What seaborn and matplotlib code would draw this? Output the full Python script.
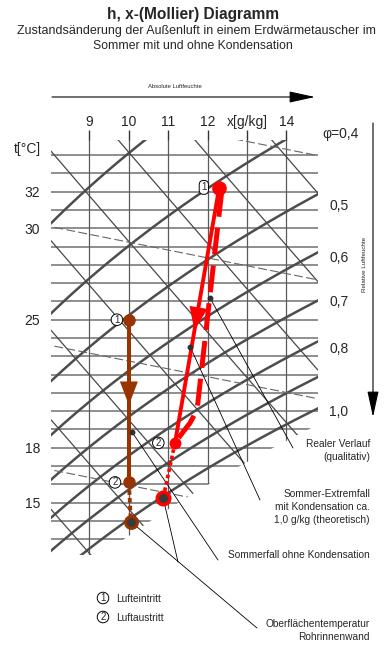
import numpy as np
import matplotlib
matplotlib.use("Agg")
import matplotlib.pyplot as plt
from matplotlib.patches import Polygon
import seaborn as sns

W, H = 385, 665

# --- chart scales ---
x_ticks = [9, 10, 11, 12, 13, 14]
x_ticklabels = ["9", "10", "11", "12", "x[g/kg]", "14"]
t_ticks = [32, 30, 25, 18, 15]
isotherms = list(range(13, 35))
phi_levels = [0.3, 0.4, 0.5, 0.6, 0.7, 0.8, 0.9, 1.0]
h_levels = [35, 40, 45, 50, 55, 60, 65, 70]
aux_t0 = [36.9, 30.1, 23.6, 16.8]     # flat dashed lines (t at x=8 g/kg)
aux_slope = -0.43
phi_labels = ["φ=0,4", "0,5", "0,6", "0,7", "0,8", "1,0"]

# --- process data (x in g/kg, t in °C) ---
# Sommerfall ohne Kondensation
brown_x = [10.0, 10.0]
brown_t = [25.0, 16.1]
brown_wall = (10.05, 13.95)
# Sommer-Extremfall mit Kondensation (theoretisch)
red_x = [12.29, 11.17]
red_t = [32.2, 18.26]
red_wall = (10.87, 15.25)
# Realer Verlauf (qualitativ)
real_x = [12.36, 11.73, 11.55, 11.22]
real_t = [32.1, 20.06, 19.35, 18.42]
# small dots where the leaders start
dot_real = (12.06, 26.19)
dot_extrem = (11.56, 23.5)
dot_ohne = (10.08, 18.86)

BROWN = "#993300"
RED = "#ff0000"

P = 101325.0


def p_sat(t):
    return 611.2 * np.exp(17.62 * t / (243.12 + t))


def x_of(t, phi):
    pv = phi * p_sat(t)
    return 622 * pv / (P - pv)


def t_dew(x):
    pv = x * P / (622 + x)
    l = np.log(pv / 611.2)
    return 243.12 * l / (17.62 - l)


def t_of_h(h, x):
    return (h - 2.501 * x) / (1.006 + 0.00186 * x)


sns.set_style("white")
plt.rcParams["font.family"] = ["Liberation Sans", "DejaVu Sans"]

fig = plt.figure(figsize=(W / 100, H / 100), dpi=100)
ax = fig.add_axes([51 / W, 1 - 555 / H, 267 / W, 415 / H])
ax.set_xlim(8.023, 14.80)
ax.set_ylim(12.13, 34.83)
for s in ax.spines.values():
    s.set_visible(False)

# clip region: chart area above (slightly below) saturation
xb = np.linspace(7.5, 15.5, 200)
tb = t_dew(xb) - 0.9
verts = [(7.5, 40), (15.5, 40)] + list(zip(xb[::-1], tb[::-1]))
clip = Polygon(verts, closed=True, transform=ax.transData, visible=False)
ax.add_patch(clip)


def gline(x, y, **kw):
    ln, = ax.plot(x, y, zorder=1, **kw)
    ln.set_clip_path(clip)


tt = np.linspace(5, 40, 300)
xx = np.linspace(7.5, 15.5, 60)
for t in isotherms:
    gline([7.5, 15.5], [t, t], color="#707070", lw=1.1)
for xv in x_ticks:
    gline([xv, xv], [5, 40], color="#5a5a5a", lw=0.9)
for phi in phi_levels:
    gline(x_of(tt, phi), tt, color="#4d4d4d", lw=1.8)
for h in h_levels:
    gline(xx, t_of_h(h, xx), color="#484848", lw=0.9)
for t0 in aux_t0:
    gline(xx, t0 + aux_slope * (xx - 8.0), color="#666666", lw=0.8,
          ls=(0, (8, 3)))

# ticks
ax.xaxis.tick_top()
ax.set_xticks(x_ticks)
ax.set_xticklabels(x_ticklabels)
ax.tick_params(axis="x", top=True, bottom=False, length=7, width=1.0,
               pad=1, labelsize=10, color="#333333")
ax.set_yticks(t_ticks)
ax.set_yticklabels([str(t) for t in t_ticks])
ax.tick_params(axis="y", left=False, length=0, pad=8, labelsize=10)

# --- processes ---
sns.lineplot(x=brown_x, y=brown_t, ax=ax, color=BROWN, lw=2.9,
             sort=False, estimator=None, zorder=3)
sns.lineplot(x=[brown_x[-1], brown_wall[0]], y=[brown_t[-1], brown_wall[1]],
             ax=ax, color=BROWN, lw=2.8, linestyle=(0, (1.2, 0.8)),
             sort=False, estimator=None, zorder=3)
sns.lineplot(x=red_x, y=red_t, ax=ax, color=RED, lw=2.8,
             sort=False, estimator=None, zorder=3)
sns.lineplot(x=real_x, y=real_t, ax=ax, color=RED, lw=3.6,
             linestyle=(0, (5.4, 2.2)), sort=False, estimator=None, zorder=3)
sns.lineplot(x=[red_x[-1], red_wall[0]], y=[red_t[-1], red_wall[1]],
             ax=ax, color=RED, lw=2.6, linestyle=(0, (1.0, 0.8)),
             sort=False, estimator=None, zorder=3)

# arrow heads
head = dict(arrowstyle="-|>,head_length=1.7,head_width=0.65", lw=0,
            shrinkA=0, shrinkB=0, mutation_scale=10)
ax.annotate("", xy=(brown_x[0], 20.33), xytext=(brown_x[0], 22.5),
            arrowprops=dict(color=BROWN, **head), zorder=4)
ra_tip, ra_tail = 24.4, 27.0
ax.annotate("", xy=(np.interp(ra_tip, red_t[::-1], red_x[::-1]), ra_tip),
            xytext=(np.interp(ra_tail, red_t[::-1], red_x[::-1]), ra_tail),
            arrowprops=dict(color=RED, **head), zorder=4)

# state points
ax.plot(brown_x, brown_t, "o", ms=8, color=BROWN, zorder=5)
ax.plot(*brown_wall, "o", ms=8.5, mfc="#3a3a3a", mec=BROWN, mew=2.2, zorder=5)
ax.plot(red_x[0], red_t[0], "o", ms=9.5, color=RED, zorder=5)
ax.plot(red_x[-1], red_t[-1], "o", ms=7.5, color=RED, zorder=5)
ax.plot(*red_wall, "o", ms=9, mfc="#3a3a3a", mec=RED, mew=2.5, zorder=5)
for d in (dot_real, dot_extrem, dot_ohne):
    ax.plot(*d, "o", ms=3.2, color="#303030", zorder=6)

# circled numbers
circ = dict(boxstyle="circle,pad=0.08", fc="white", ec="black", lw=0.7)
for txt, pt, off in [("1", (brown_x[0], brown_t[0]), -8.6),
                     ("2", (brown_x[-1], brown_t[-1]), -10.0),
                     ("2", (red_x[-1], red_t[-1]), -12.0)]:
    ax.annotate(txt, xy=pt, xytext=(off, 0), textcoords="offset points",
                ha="center", va="center", fontsize=7, bbox=circ, zorder=6)
ax.annotate("1", xy=(red_x[0], red_t[0]), xytext=(-11, 0.5),
            textcoords="offset points", ha="center", va="center", fontsize=7,
            bbox=dict(boxstyle="round,pad=0.2,rounding_size=0.45",
                      fc="white", ec="black", lw=0.7), zorder=6)

# leader lines
lead = dict(arrowstyle="-", lw=0.6, color="black", shrinkA=0, shrinkB=0)
for pt, end in [(dot_real, (293, 448)), (dot_extrem, (260, 500)),
                (dot_ohne, (218, 560)), (brown_wall, (257, 628)),
                (red_wall, (178, 562))]:
    ax.annotate("", xy=pt, xytext=(end[0], H - end[1]),
                textcoords="figure pixels", arrowprops=lead,
                annotation_clip=False, zorder=2)


def ftext(px, py, s, **kw):
    fig.text(px / W, 1 - py / H, s, **kw)


# titles
ftext(193, 14, "h, x-(Mollier) Diagramm", ha="center", va="center",
      fontsize=11.2, fontweight="bold")
ftext(196, 31, "Zustandsänderung der Außenluft in einem Erdwärmetauscher im",
      ha="center", va="center", fontsize=9.0)
ftext(193, 46, "Sommer mit und ohne Kondensation", ha="center", va="center",
      fontsize=8.8)

# axis captions and arrows
ftext(175, 86, "Absolute Luftfeuchte", ha="center", va="center", fontsize=4.2)
arr = dict(arrowstyle="-|>,head_length=1.6,head_width=0.35", lw=0.8,
           color="black", shrinkA=0, shrinkB=0, mutation_scale=10)
ax.annotate("", xy=(315, H - 97), xycoords="figure pixels",
            xytext=(52, H - 97), textcoords="figure pixels", arrowprops=arr,
            annotation_clip=False)
ax.annotate("", xy=(373, H - 417), xycoords="figure pixels",
            xytext=(373, H - 123), textcoords="figure pixels", arrowprops=arr,
            annotation_clip=False)
ftext(365, 264, "Relative Luftfeuchte", ha="center", va="center",
      fontsize=4.5, rotation=90)
ftext(27, 149, "t[°C]", ha="center", va="center", fontsize=10)

for lab, py in zip(phi_labels, [134, 206, 258, 302, 349, 412]):
    ftext(322 if lab.startswith("φ") else 329, py, lab, ha="left",
          va="center", fontsize=10)

# annotation texts
for s, py in [("Realer Verlauf", 444), ("(qualitativ)", 457),
              ("Sommer-Extremfall", 494), ("mit Kondensation ca.", 507),
              ("1,0 g/kg (theoretisch)", 520),
              ("Sommerfall ohne Kondensation", 555),
              ("Oberflächentemperatur", 624), ("Rohrinnenwand", 637)]:
    ftext(370, py, s, ha="right", va="center", fontsize=7.3)

# legend
for n, s, py in [("1", "Lufteintritt", 599), ("2", "Luftaustritt", 618)]:
    ftext(103, py - 1, n, ha="center", va="center", fontsize=7, bbox=circ)
    ftext(116, py, s, ha="left", va="center", fontsize=7.3)

fig.savefig("out.png", dpi=100)
